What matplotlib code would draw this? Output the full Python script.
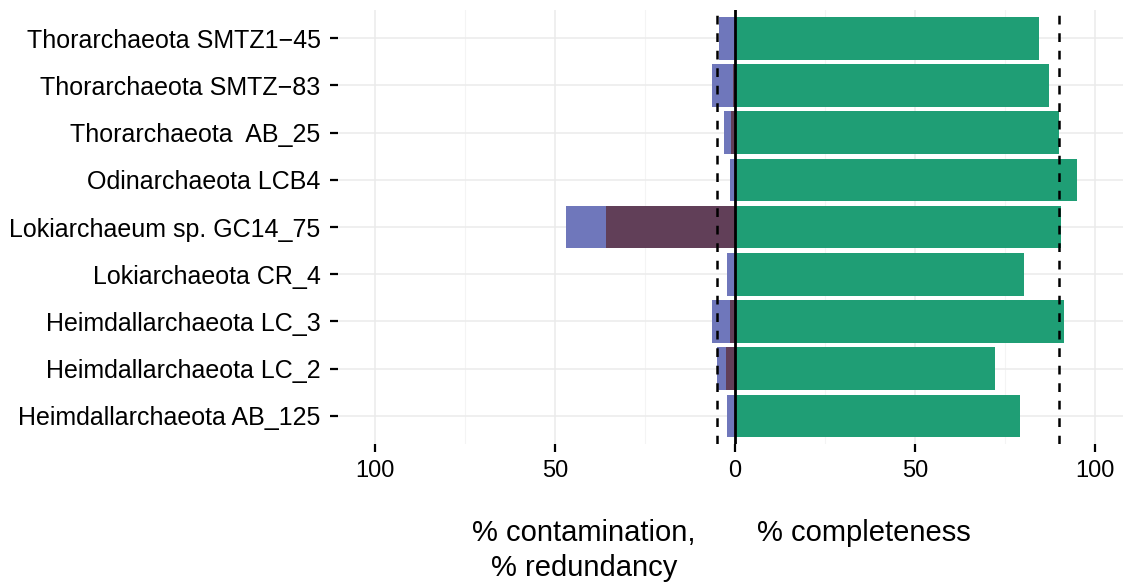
import matplotlib
matplotlib.use("Agg")
import matplotlib.pyplot as plt
import numpy as np

genomes = ["Thorarchaeota SMTZ1\u221245", "Thorarchaeota SMTZ\u221283", "Thorarchaeota  AB_25",
           "Odinarchaeota LCB4", "Lokiarchaeum sp. GC14_75", "Lokiarchaeota CR_4",
           "Heimdallarchaeota LC_3", "Heimdallarchaeota LC_2", "Heimdallarchaeota AB_125"]
completeness = [84.4, 87.2, 90.0, 95.0, 90.6, 80.3, 91.4, 72.2, 79.2]
contamination = [4.4, 6.5, 3.1, 1.4, 47.0, 2.2, 6.4, 5.0, 2.2]
redundancy = [0.0, 0.6, 1.0, 0.0, 35.8, 0.0, 1.4, 2.5, 0.0]
xticks = [-100, -50, 0, 50, 100]
xticklabels = ["100", "50", "0", "50", "100"]
thresholds = [-5, 90]

plt.rcParams['font.family'] = ['Liberation Sans', 'DejaVu Sans']

fig = plt.figure(figsize=(11.23, 5.86), dpi=100)
ax = fig.add_axes([0.301, 0.242, 0.699, 0.741])

n = len(genomes)
y = np.arange(n)[::-1] + 1
ax.barh(y, completeness, height=0.9, color="#1f9e75", zorder=2)
ax.barh(y, [-c for c in contamination], height=0.9, color="#6f77bb", zorder=2)
ax.barh(y, [-r for r in redundancy], height=0.9, color="#613f58", zorder=3)
ax.axvline(0, color="black", lw=2, zorder=4)
for t in thresholds:
    ax.axvline(t, color="black", lw=1.8, ls=(0, (3.5, 3.5)), zorder=4)

ax.set_xlim(-110.3, 107.8)
ax.set_ylim(0.4, n + 0.6)
ax.set_xticks(xticks)
ax.set_xticklabels(xticklabels)
ax.set_xticks([-75, -25, 25, 75], minor=True)
ax.set_yticks(y)
ax.set_yticklabels(genomes)
ax.grid(True, which="major", color="#ebebeb", lw=1.1, zorder=0)
ax.grid(True, which="minor", axis="x", color="#f4f4f4", lw=0.8, zorder=0)
ax.set_axisbelow(True)
for s in ax.spines.values():
    s.set_visible(False)
ax.tick_params(axis="both", which="major", length=5.5, width=1.6, color="black", pad=6)
ax.tick_params(axis="x", which="major", labelsize=17)
ax.tick_params(axis="y", which="major", labelsize=18, pad=7)
ax.tick_params(axis="x", which="minor", length=0)

fig.text(0.520, 1 - 541 / 586, "% contamination,", ha="center", va="baseline", fontsize=21)
fig.text(0.520, 1 - 576 / 586, "% redundancy", ha="center", va="baseline", fontsize=21)
fig.text(0.769, 1 - 541 / 586, "% completeness", ha="center", va="baseline", fontsize=21)

fig.savefig("out.png", dpi=100)
